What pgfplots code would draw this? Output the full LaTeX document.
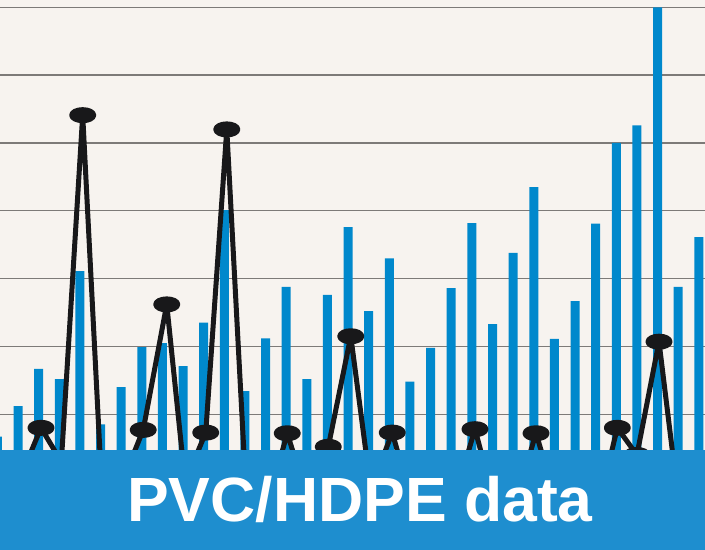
\documentclass[border=0pt]{standalone}
\usepackage{pgfplots}
\pgfplotsset{compat=1.18}
\usepackage{pgfplotstable}
\usepackage{fontspec}
\setmainfont{Liberation Sans}
\definecolor{bgcol}{RGB}{247,243,239}
\definecolor{barblue}{RGB}{0,136,204}
\definecolor{bannerblue}{RGB}{30,142,207}
\definecolor{gridgray}{RGB}{125,122,120}
\definecolor{linecol}{RGB}{24,24,26}
\pgfplotstableread{
x v
0 6.7
1 11.2
2 16.7
3 15.2
4 31.1
5 8.5
6 14.0
7 19.9
8 20.5
9 17.1
10 23.5
11 40.1
12 13.4
13 21.2
14 28.8
15 15.2
16 27.6
17 37.6
18 25.2
19 33.0
20 14.8
21 19.8
22 28.6
23 38.2
24 23.3
25 33.8
26 43.5
27 21.1
28 26.7
29 38.1
30 50.0
31 52.6
32 70.0
33 28.8
34 36.1
}\bardata
\pgfplotstableread{
x v
0.10 -3.0
1.10 0.6
2.115 8.0
3.10 3.0
4.136 54.1
5.10 -3.2
6.10 0.4
7.07 7.7
8.21 26.2
9.10 0.0
10.10 7.3
11.12 52.0
12.10 -4.2
13.10 -3.2
14.05 7.2
15.10 -3.0
16.04 5.2
17.13 21.5
18.10 -1.0
19.14 7.3
20.10 -3.0
21.10 -3.0
22.10 -3.0
23.15 7.8
24.10 -3.0
25.10 -3.0
26.11 7.2
27.10 -3.0
28.10 -3.0
29.10 -4.0
30.05 8.0
31.00 4.0
32.07 20.7
33.10 -4.9
34.10 -3.0
}\linedata
\begin{document}
\begin{tikzpicture}
\begin{axis}[
  scale only axis,
  width=705pt, height=550pt,
  xmin=0.1275, xmax=34.30,
  ymin=-10.01, ymax=71.08,
  axis line style={draw=none},
  axis background/.style={fill=bgcol},
  xtick=\empty,
  ytick={0,10,...,70},
  yticklabels={},
  major tick length=0pt,
  tick style={draw=none},
  ymajorgrids,
  major grid style={draw=gridgray, line width=1.3pt},
]
\addplot[ybar, bar width=9pt, fill=barblue, draw=none] table[x=x,y=v] {\bardata};
\addplot[linecol, line width=5pt, line join=round, sharp plot,
  mark=*, mark size=5.5pt, mark options={xscale=2, fill=linecol, draw=none}]
  table[x=x,y=v] {\linedata};
\end{axis}
\fill[bannerblue] (current axis.south west) rectangle ([yshift=100pt]current axis.south east);
\node[anchor=base, text=white, inner sep=0pt, font=\fontsize{62.5}{62.5}\selectfont\bfseries]
  at ([xshift=360pt, yshift=28pt]current axis.south west) {PVC/HDPE data};
\pgfresetboundingbox
\path (current axis.south west) rectangle (current axis.north east);
\end{tikzpicture}
\end{document}
